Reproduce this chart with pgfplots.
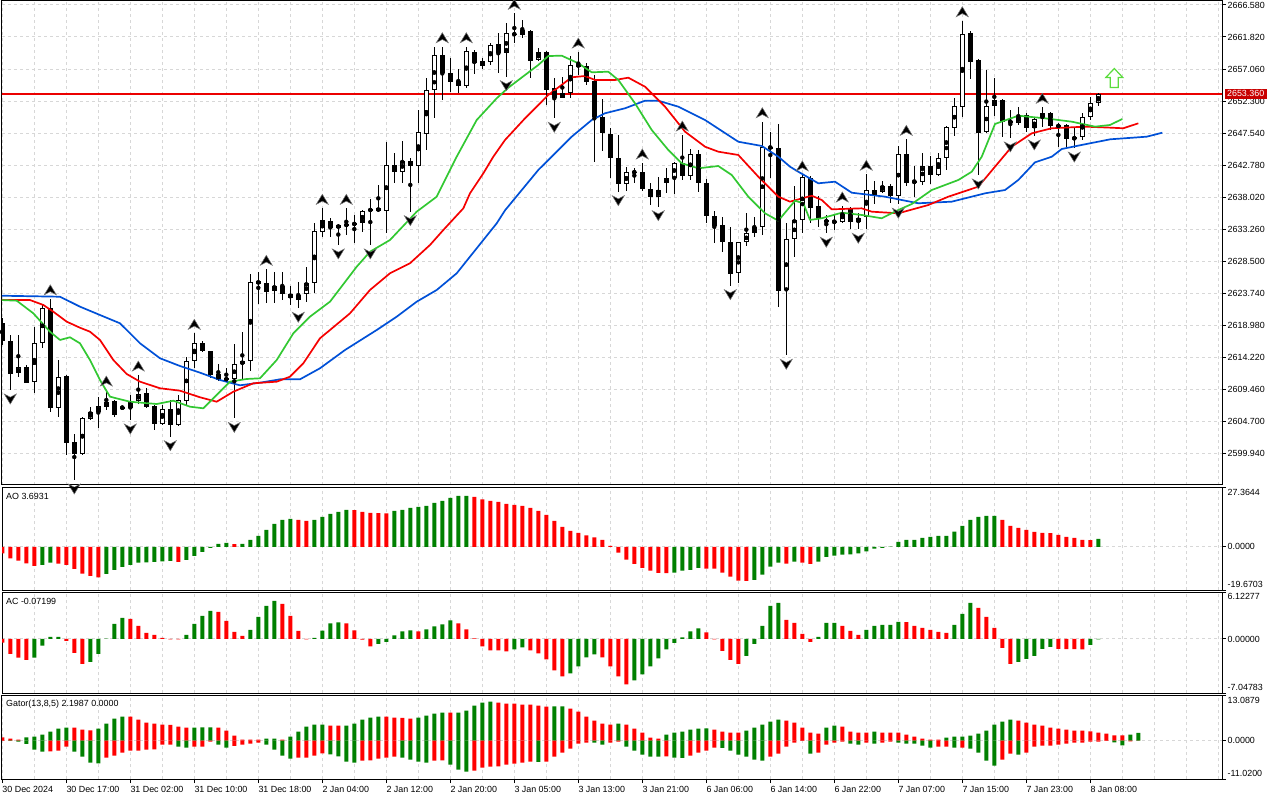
\documentclass[border=0pt]{standalone}
\usepackage{pgfplots}
\pgfplotsset{compat=1.18}
\usepackage{pgfplotstable}
\usepackage{fontspec}
\setmainfont{Liberation Sans}

\definecolor{aogreen}{RGB}{0,128,0}
\definecolor{aored}{RGB}{255,0,0}
\definecolor{jawblue}{RGB}{0,80,215}
\definecolor{teethred}{RGB}{245,0,0}
\definecolor{lipsgreen}{RGB}{50,200,50}
\definecolor{gridc}{RGB}{215,215,215}
\definecolor{pricered}{RGB}{235,0,0}
\definecolor{labelred}{RGB}{200,0,0}
\definecolor{siggreen}{RGB}{90,220,60}

\newcommand\lbl{\fontsize{8.9}{10}\selectfont}

\pgfplotsset{
  green bars/.style={ybar, bar width=4pt, bar shift=0pt, fill=aogreen, draw=none, restrict expr to domain={\thisrow{#1}}{0.5:1.5}},
  red bars/.style={ybar, bar width=4pt, bar shift=0pt, fill=aored, draw=none, restrict expr to domain={\thisrow{#1}}{-0.5:0.5}},
  pane/.style={
    scale only axis, width=1220pt,
    xmin=-0.0375, xmax=152.4625,
    axis line style={line width=1pt},
    every tick/.style={black, line width=1pt},
    tick align=outside, major tick length=4pt, minor tick length=0pt,
    ytick pos=right, yticklabel pos=right, xtick pos=left,
    grid style={gridc, line width=1pt, dash pattern=on 3pt off 3pt},
    ticklabel style={font=\lbl},
    yticklabel style={anchor=west, inner sep=0pt, xshift=1.5pt},
    xtick={0,4,...,152}, xticklabels={}, xmajorgrids,
    xtick style={draw=none},
  },
}

\pgfdeclareplotmark{fracup}{%
  \pgfpathmoveto{\pgfqpoint{0pt}{14pt}}%
  \pgfpathlineto{\pgfqpoint{6pt}{4pt}}%
  \pgfpathlineto{\pgfqpoint{0pt}{7.2pt}}%
  \pgfpathlineto{\pgfqpoint{-6pt}{4pt}}%
  \pgfpathclose\pgfusepathqfillstroke}
\pgfdeclareplotmark{fracdn}{%
  \pgfpathmoveto{\pgfqpoint{0pt}{-14pt}}%
  \pgfpathlineto{\pgfqpoint{6pt}{-4pt}}%
  \pgfpathlineto{\pgfqpoint{0pt}{-7.2pt}}%
  \pgfpathlineto{\pgfqpoint{-6pt}{-4pt}}%
  \pgfpathclose\pgfusepathqfillstroke}
\pgfdeclareplotmark{sigup}{%
  \pgfpathmoveto{\pgfqpoint{0pt}{9.5pt}}%
  \pgfpathlineto{\pgfqpoint{8.5pt}{0.5pt}}%
  \pgfpathlineto{\pgfqpoint{4pt}{0.5pt}}%
  \pgfpathlineto{\pgfqpoint{4pt}{-9.5pt}}%
  \pgfpathlineto{\pgfqpoint{-4pt}{-9.5pt}}%
  \pgfpathlineto{\pgfqpoint{-4pt}{0.5pt}}%
  \pgfpathlineto{\pgfqpoint{-8.5pt}{0.5pt}}%
  \pgfpathclose\pgfusepathqfillstroke}

\pgfplotstableread{
k o h l c
0 2619.26 2620.05 2616.03 2616.67
1 2616.63 2617.52 2609.34 2611.77
2 2611.83 2617.52 2611.23 2612.72
3 2612.72 2613.06 2610.34 2610.43
4 2610.49 2618.75 2608.85 2616.29
5 2616.29 2622.20 2615.54 2621.49
6 2621.49 2622.90 2606.12 2606.62
7 2606.62 2613.80 2605.37 2611.32
8 2611.42 2611.57 2599.68 2601.51
9 2601.57 2602.80 2595.96 2599.78
10 2599.78 2605.37 2599.68 2605.12
11 2605.12 2606.86 2604.88 2606.03
12 2606.03 2608.35 2603.65 2606.96
13 2606.86 2609.34 2606.37 2607.51
14 2607.71 2607.86 2605.37 2605.63
15 2606.71 2606.96 2606.52 2606.70
16 2606.62 2608.60 2604.88 2607.75
17 2607.75 2611.57 2607.26 2608.75
18 2608.85 2609.60 2606.62 2606.86
19 2606.96 2607.11 2603.40 2604.29
20 2604.29 2607.11 2604.14 2606.52
21 2606.47 2607.86 2602.40 2604.14
22 2604.14 2608.60 2603.99 2607.86
23 2607.75 2614.29 2607.11 2613.65
24 2613.65 2617.77 2612.57 2616.37
25 2616.37 2616.63 2615.04 2615.19
26 2615.14 2615.14 2611.08 2611.57
27 2611.68 2613.21 2610.73 2610.83
28 2611.08 2612.66 2610.58 2610.83
29 2610.98 2616.14 2605.12 2613.16
30 2613.16 2618.01 2610.98 2613.65
31 2613.70 2626.59 2612.17 2625.47
32 2625.55 2626.93 2622.13 2625.15
33 2625.20 2627.29 2622.32 2623.96
34 2624.06 2626.93 2622.32 2624.80
35 2624.80 2626.93 2622.72 2623.57
36 2623.61 2624.80 2621.98 2622.97
37 2622.72 2625.44 2621.49 2623.47
38 2623.57 2627.67 2622.47 2625.30
39 2625.30 2634.21 2623.72 2632.98
40 2632.79 2636.35 2632.13 2634.62
41 2634.51 2634.87 2632.13 2633.47
42 2633.47 2634.02 2630.90 2633.82
43 2633.97 2636.35 2632.38 2633.76
44 2634.12 2635.36 2631.15 2633.97
45 2634.12 2636.10 2632.87 2635.95
46 2635.91 2637.69 2630.90 2636.29
47 2636.35 2639.82 2635.85 2636.00
48 2636.00 2646.26 2632.64 2642.79
49 2642.79 2644.53 2640.16 2641.79
50 2641.79 2646.36 2640.16 2643.39
51 2643.39 2643.83 2635.85 2642.69
52 2642.69 2650.97 2640.16 2647.65
53 2647.35 2655.68 2645.02 2653.94
54 2653.94 2660.38 2649.82 2659.14
55 2659.14 2660.38 2652.45 2656.42
56 2656.42 2658.65 2653.69 2655.17
57 2655.28 2657.02 2653.54 2654.58
58 2654.58 2660.38 2654.19 2659.74
59 2659.55 2659.89 2656.32 2657.91
60 2657.51 2658.65 2657.02 2658.25
61 2658.15 2660.88 2657.66 2660.63
62 2660.73 2662.37 2656.42 2659.40
63 2659.40 2663.86 2655.92 2662.37
64 2662.22 2665.34 2660.97 2662.27
65 2662.12 2664.35 2661.63 2662.86
66 2662.71 2662.86 2655.68 2658.30
67 2658.40 2660.14 2658.25 2659.55
68 2659.55 2659.74 2651.71 2653.94
69 2654.19 2655.68 2649.73 2652.80
70 2652.80 2655.92 2652.71 2653.45
71 2653.45 2658.99 2652.80 2657.66
72 2657.66 2659.59 2656.17 2657.51
73 2657.51 2657.91 2654.68 2655.17
74 2655.28 2656.17 2643.28 2649.88
75 2649.88 2652.56 2644.92 2647.50
76 2647.40 2648.25 2640.81 2643.79
77 2643.79 2647.25 2638.82 2639.92
78 2639.92 2642.54 2638.97 2641.71
79 2641.71 2642.30 2640.16 2641.75
80 2641.71 2643.09 2638.97 2639.22
81 2639.22 2640.07 2636.84 2638.08
82 2637.99 2641.03 2636.59 2639.08
83 2640.16 2642.30 2638.67 2640.81
84 2640.81 2643.28 2638.48 2643.13
85 2643.13 2647.25 2640.56 2641.20
86 2641.20 2645.13 2640.56 2644.39
87 2644.39 2645.02 2638.82 2640.07
88 2640.07 2640.67 2634.21 2635.25
89 2635.25 2635.99 2631.24 2633.72
90 2633.86 2635.10 2629.90 2631.30
91 2631.30 2633.53 2624.85 2626.59
92 2626.78 2631.35 2625.30 2631.30
93 2631.30 2635.61 2630.75 2632.64
94 2632.64 2635.10 2632.04 2633.62
95 2633.62 2649.23 2632.38 2645.51
96 2645.51 2647.74 2640.81 2645.27
97 2645.36 2648.89 2621.73 2624.11
98 2624.21 2634.12 2614.50 2631.76
99 2631.76 2639.70 2629.16 2634.54
100 2634.54 2641.32 2632.65 2640.98
101 2640.83 2641.10 2634.21 2636.44
102 2636.70 2638.18 2633.61 2634.76
103 2634.61 2635.36 2632.64 2634.27
104 2634.47 2635.51 2633.13 2634.27
105 2634.36 2636.70 2634.21 2635.76
106 2636.25 2636.55 2633.23 2634.36
107 2634.36 2635.70 2633.23 2634.96
108 2635.10 2641.42 2633.23 2639.09
109 2639.09 2640.43 2636.96 2638.34
110 2638.85 2640.43 2638.60 2639.74
111 2639.74 2639.94 2637.11 2638.20
112 2638.20 2645.66 2636.96 2644.39
113 2644.39 2646.61 2639.74 2640.16
114 2640.41 2642.64 2638.08 2640.16
115 2640.31 2644.62 2639.82 2642.64
116 2642.64 2644.13 2639.97 2641.30
117 2641.30 2644.62 2641.20 2643.79
118 2643.79 2648.59 2642.05 2648.49
119 2648.25 2652.71 2647.10 2651.56
120 2651.46 2664.24 2649.88 2662.22
121 2662.37 2662.76 2655.58 2658.15
122 2658.40 2658.55 2641.30 2647.50
123 2647.65 2656.91 2647.55 2651.61
124 2651.61 2655.77 2650.08 2652.45
125 2652.45 2652.56 2647.00 2649.14
126 2649.33 2650.97 2646.81 2649.14
127 2649.08 2651.37 2648.74 2649.97
128 2650.22 2650.52 2647.70 2648.34
129 2648.25 2649.97 2647.10 2649.58
130 2649.73 2651.37 2648.49 2650.48
131 2650.48 2650.71 2647.99 2648.59
132 2648.74 2649.04 2645.51 2648.44
133 2648.74 2648.89 2645.51 2646.61
134 2646.61 2648.25 2645.30 2646.91
135 2646.91 2650.57 2646.51 2649.88
136 2649.88 2652.86 2649.49 2652.05
137 2652.05 2653.54 2651.56 2653.36
}\ohlc

\pgfplotstableread{
k p
-0.3 2623.36
7.21 2623.21
9.71 2621.73
12.21 2620.49
14.71 2619.26
17.21 2616.29
19.71 2614.06
22.21 2612.91
24.71 2611.92
27.21 2610.83
29.71 2610.04
32.21 2610.43
34.71 2610.93
37.21 2610.93
39.71 2612.57
42.84 2615.29
46.8 2618.26
49.3 2620.24
51.8 2622.47
54.3 2624.21
56.8 2626.69
58.46 2629.16
60.13 2631.64
61.8 2634.12
62.84 2636.05
67.0 2642.05
71.18 2647.00
73.68 2649.48
75.34 2650.48
77.84 2651.22
80.34 2652.35
82.0 2652.35
84.5 2651.46
87.84 2649.48
92.0 2646.25
94.93 2645.62
97.0 2644.03
98.46 2642.54
99.5 2641.79
102.0 2640.07
104.09 2640.31
106.18 2638.67
110.34 2638.08
114.5 2637.10
118.68 2637.34
122.84 2638.58
125.34 2639.07
127.0 2640.56
129.09 2643.19
131.18 2644.02
132.43 2645.17
135.34 2645.87
138.5 2646.61
143.05 2647.00
145.0 2647.59
}\jaw

\pgfplotstableread{
k p
-0.3 2622.72
3.46 2622.72
5.13 2621.98
6.38 2620.98
8.05 2619.50
9.71 2618.60
10.96 2618.01
12.21 2616.78
13.88 2613.80
15.55 2611.72
17.21 2610.58
19.71 2609.60
22.21 2609.24
24.71 2608.26
26.8 2607.60
28.88 2609.09
31.38 2610.34
34.3 2610.58
35.96 2611.32
37.63 2613.31
39.71 2617.03
40.96 2618.26
43.46 2620.74
45.96 2624.21
48.46 2626.69
50.96 2628.18
53.46 2630.90
55.13 2633.13
57.63 2636.35
58.46 2638.58
60.13 2641.56
61.38 2644.03
62.84 2646.51
65.34 2649.73
68.25 2653.20
71.18 2655.83
72.84 2656.02
74.09 2655.43
76.59 2655.43
78.25 2655.77
80.34 2654.43
82.84 2651.46
85.34 2647.74
87.84 2645.51
89.5 2644.77
92.0 2644.28
94.5 2641.05
97.0 2638.08
98.46 2637.34
101.18 2638.23
102.43 2637.59
103.68 2636.20
107.43 2636.35
108.68 2635.85
112.0 2635.61
115.75 2636.84
118.25 2638.08
122.0 2639.57
124.09 2642.54
126.18 2645.51
128.68 2647.50
131.18 2648.25
135.34 2648.49
138.5 2648.34
140.13 2648.25
142.0 2648.99
}\teeth

\pgfplotstableread{
k p
-0.3 2622.72
1.8 2622.62
3.88 2620.74
5.96 2618.01
7.21 2616.78
8.46 2617.18
9.71 2616.28
10.96 2613.80
12.21 2610.83
13.46 2608.35
15.96 2607.60
19.3 2607.26
21.38 2607.75
23.46 2606.86
25.13 2606.62
26.8 2608.60
28.46 2610.58
30.55 2610.98
32.21 2611.08
34.3 2613.80
36.38 2617.77
38.46 2620.24
40.96 2622.47
44.3 2627.67
45.96 2629.90
48.46 2631.64
51.8 2635.85
54.3 2638.08
56.8 2644.03
59.3 2649.48
61.8 2652.71
63.21 2654.24
65.34 2656.17
67.0 2657.66
68.25 2658.99
69.93 2659.04
72.0 2657.91
73.68 2656.57
75.75 2656.66
77.0 2655.43
79.09 2651.96
81.18 2647.99
83.25 2645.02
84.93 2643.04
87.0 2642.30
89.5 2642.64
91.18 2641.30
93.25 2638.08
95.34 2635.61
97.0 2634.51
98.46 2636.59
99.09 2637.48
100.13 2637.10
100.96 2634.62
102.43 2634.87
104.93 2635.70
107.43 2635.36
109.93 2634.87
112.0 2636.10
113.68 2636.99
116.18 2639.07
119.5 2640.56
121.18 2641.79
122.43 2644.03
124.09 2648.89
127.0 2650.12
130.34 2649.73
133.68 2649.23
136.59 2648.49
138.46 2648.74
140.0 2649.63
}\lips

\pgfplotstableread{
k p
6 2622.90
13 2609.34
17 2611.57
24 2617.77
33 2627.29
40 2636.35
43 2636.35
55 2660.38
58 2660.38
64 2665.34
72 2659.59
80 2643.09
85 2647.25
95 2649.23
100 2641.32
105 2636.70
108 2641.42
113 2646.61
120 2664.24
130 2651.37
}\fup

\pgfplotstableread{
k p
1 2609.34
9 2595.96
16 2604.88
21 2602.40
29 2605.12
37 2621.49
42 2630.90
46 2630.90
51 2635.85
63 2655.92
69 2649.73
77 2638.82
82 2636.59
91 2624.85
98 2614.50
103 2632.64
107 2633.23
112 2636.96
122 2641.30
126 2646.81
129 2647.10
134 2645.30
}\fdn

% current bid price
\pgfplotstableread{
k p
-1 2653.36
154 2653.36
}\bid

% c = 1 : green bar, c = 0 : red bar
\pgfplotstableread{
k v c
0 -2.89 0
1 -5.17 0
2 -6.24 0
3 -7.46 0
4 -8.68 0
5 -8.22 1
6 -7.15 1
7 -7.61 0
8 -8.22 0
9 -10.05 0
10 -12.18 0
11 -13.24 0
12 -13.85 0
13 -12.33 1
14 -10.50 1
15 -9.13 1
16 -8.22 1
17 -7.15 1
18 -7.00 1
19 -6.85 1
20 -6.54 1
21 -6.39 1
22 -6.85 0
23 -5.94 1
24 -4.11 1
25 -2.28 1
26 -0.46 1
27 1.37 1
28 1.83 1
29 1.30 0
30 1.45 1
31 3.20 1
32 5.02 1
33 7.76 1
34 10.50 1
35 12.33 1
36 12.78 1
37 12.33 0
38 11.87 0
39 12.33 1
40 13.70 1
41 15.07 1
42 15.98 1
43 16.89 1
44 16.80 0
45 15.98 0
46 15.52 0
47 15.45 0
48 15.35 0
49 16.44 1
50 16.89 1
51 17.81 1
52 18.26 1
53 18.72 1
54 20.09 1
55 21.00 1
56 22.37 1
57 23.29 1
58 23.35 1
59 22.83 0
60 21.76 0
61 21.00 0
62 20.55 0
63 19.63 0
64 19.18 0
65 18.72 0
66 17.81 0
67 16.44 0
68 14.61 0
69 11.87 0
70 9.13 0
71 7.31 0
72 6.39 0
73 5.33 0
74 4.41 0
75 3.20 0
76 0.46 0
77 -2.59 0
78 -5.78 0
79 -7.76 0
80 -9.59 0
81 -10.81 0
82 -11.87 0
83 -11.95 0
84 -11.72 1
85 -10.81 1
86 -10.50 1
87 -9.59 1
88 -9.89 0
89 -9.95 0
90 -11.72 0
91 -13.55 0
92 -15.37 0
93 -15.45 0
94 -15.07 1
95 -12.63 1
96 -8.98 1
97 -7.15 1
98 -7.61 0
99 -6.70 1
100 -7.15 0
101 -7.76 0
102 -6.70 1
103 -4.57 1
104 -3.96 1
105 -3.50 1
106 -3.45 1
107 -2.89 1
108 -1.98 1
109 -0.76 1
110 -0.46 1
111 0.15 1
112 2.28 1
113 3.20 1
114 3.25 1
115 4.11 1
116 4.57 1
117 5.02 1
118 5.08 1
119 7.00 1
120 9.59 1
121 12.33 1
122 13.70 1
123 14.15 1
124 14.20 1
125 12.33 0
126 9.59 0
127 8.68 0
128 7.76 0
129 6.85 0
130 6.39 0
131 6.35 0
132 5.48 0
133 4.57 0
134 4.11 0
135 3.20 0
136 3.15 0
137 3.69 1
}\aotab

\pgfplotstableread{
k v c
0 -0.48 0
1 -1.96 0
2 -2.43 0
3 -2.74 0
4 -2.43 1
5 -0.87 1
6 0.26 1
7 0.28 1
8 -0.26 0
9 -1.83 0
10 -3.26 0
11 -3.00 1
12 -1.96 1
13 0.04 1
14 1.96 1
15 2.74 1
16 2.61 0
17 1.70 0
18 0.78 0
19 0.52 0
20 0.13 0
21 -0.04 0
22 -0.07 0
23 0.52 1
24 1.96 1
25 3.00 1
26 3.65 1
27 3.52 0
28 2.35 0
29 0.91 0
30 0.39 0
31 1.17 1
32 2.87 1
33 4.30 1
34 4.96 1
35 4.56 0
36 3.00 0
37 1.04 0
38 -0.04 0
39 0.13 1
40 1.09 1
41 2.04 1
42 2.17 1
43 2.04 0
44 1.13 0
45 -0.09 0
46 -0.96 0
47 -0.65 1
48 -0.39 1
49 0.48 1
50 1.00 1
51 1.13 1
52 1.00 0
53 1.26 1
54 1.65 1
55 1.91 1
56 2.43 1
57 2.04 0
58 1.26 0
59 0.09 0
60 -0.96 0
61 -1.48 0
62 -1.50 0
63 -1.61 0
64 -1.35 1
65 -1.09 1
66 -1.48 0
67 -1.87 0
68 -2.65 0
69 -4.09 0
70 -4.87 0
71 -4.48 1
72 -3.56 1
73 -2.39 1
74 -2.00 1
75 -2.39 0
76 -3.56 0
77 -4.87 0
78 -5.91 0
79 -5.39 1
80 -4.61 1
81 -3.56 1
82 -2.52 1
83 -1.35 1
84 -0.52 1
85 0.22 1
86 1.00 1
87 1.39 1
88 0.87 0
89 -0.04 0
90 -1.56 0
91 -2.74 0
92 -3.26 0
93 -2.22 1
94 -0.65 1
95 1.70 1
96 4.30 1
97 4.69 1
98 2.48 0
99 2.09 0
100 0.65 0
101 -0.39 0
102 0.26 1
103 2.09 1
104 2.11 1
105 1.70 0
106 1.04 0
107 0.52 0
108 1.17 1
109 1.70 1
110 1.83 1
111 1.85 1
112 2.22 1
113 2.20 0
114 1.70 0
115 1.43 0
116 1.17 0
117 0.91 0
118 0.78 0
119 1.83 1
120 3.26 1
121 4.69 1
122 4.04 0
123 2.87 0
124 1.43 0
125 -1.17 0
126 -3.26 0
127 -3.00 1
128 -2.61 1
129 -2.22 1
130 -1.30 1
131 -1.04 1
132 -1.30 0
133 -1.32 0
134 -1.34 0
135 -1.36 0
136 -0.78 1
137 -0.07 1
}\actab

\pgfplotstableread{
k up uc lo lc
0 0.96 0 -0.05 0
1 0.57 0 -0.10 1
2 0.29 0 -0.29 1
3 0.96 1 -0.96 1
4 1.15 1 -2.58 1
5 1.72 1 -3.16 1
6 2.58 1 -3.10 0
7 3.45 1 -2.87 0
8 3.73 1 -1.72 0
9 3.70 0 -3.16 1
10 3.16 0 -4.59 1
11 2.97 0 -6.32 1
12 3.45 1 -6.51 1
13 4.88 1 -4.88 0
14 6.32 1 -4.31 0
15 6.89 1 -3.45 0
16 6.85 0 -2.87 0
17 6.03 0 -2.85 0
18 5.17 0 -2.58 0
19 4.88 0 -2.55 0
20 4.59 0 -1.15 0
21 4.55 0 -1.12 0
22 4.02 0 -1.72 1
23 3.73 0 -2.01 1
24 3.76 1 -1.72 0
25 3.78 1 -1.70 0
26 3.80 1 -0.29 0
27 3.75 0 -1.15 1
28 2.87 0 -2.01 1
29 1.44 0 -1.53 0
30 0.29 0 -1.15 0
31 0.27 0 -0.86 0
32 0.25 0 -0.57 0
33 0.57 1 -1.15 1
34 0.60 1 -2.58 1
35 0.29 0 -4.31 1
36 1.15 1 -5.17 1
37 2.58 1 -4.88 0
38 4.02 1 -4.85 0
39 4.59 1 -4.31 0
40 4.62 1 -3.64 0
41 4.31 0 -3.92 1
42 4.28 0 -4.50 1
43 4.33 1 -6.03 1
44 4.88 1 -6.32 1
45 6.03 1 -5.74 0
46 6.60 1 -5.70 0
47 6.89 1 -5.17 0
48 6.85 0 -4.88 0
49 6.60 0 -4.59 0
50 6.55 0 -4.88 1
51 6.32 0 -5.45 1
52 6.60 1 -6.03 1
53 7.18 1 -6.32 1
54 7.75 1 -5.74 0
55 8.04 1 -5.70 0
56 8.00 0 -6.89 1
57 8.05 1 -8.33 1
58 8.61 1 -8.90 1
59 10.05 1 -8.61 0
60 10.91 1 -7.75 0
61 11.20 1 -7.46 0
62 10.91 0 -7.42 0
63 10.62 0 -6.89 0
64 10.58 0 -6.60 0
65 10.34 0 -6.32 0
66 10.30 0 -6.03 0
67 10.05 0 -6.08 1
68 9.76 0 -6.03 0
69 9.80 1 -4.59 0
70 9.84 1 -3.45 0
71 9.19 0 -2.30 0
72 8.33 0 -0.86 0
73 6.89 0 -0.57 0
74 5.74 0 -0.60 1
75 4.88 0 -1.15 1
76 4.59 0 -0.57 0
77 4.88 1 -0.29 0
78 4.59 0 -1.72 1
79 3.45 0 -2.87 1
80 2.30 0 -4.02 1
81 0.86 0 -4.59 1
82 0.57 0 -4.62 1
83 1.72 1 -4.55 0
84 2.30 1 -4.88 1
85 2.58 1 -4.92 1
86 3.16 1 -4.31 0
87 3.45 1 -3.45 0
88 3.48 1 -2.87 0
89 3.16 0 -2.01 0
90 2.58 0 -2.05 1
91 2.30 0 -2.87 1
92 2.28 0 -4.02 1
93 2.87 1 -4.59 1
94 3.73 1 -5.45 1
95 4.59 1 -5.74 1
96 5.45 1 -4.59 0
97 6.03 1 -3.73 0
98 5.74 0 -1.72 0
99 5.17 0 -0.57 0
100 3.73 0 -0.05 0
101 2.30 0 -3.73 1
102 2.01 0 -3.45 0
103 3.73 1 -1.15 0
104 4.31 1 -0.57 0
105 4.02 0 -0.29 0
106 2.58 0 -0.86 1
107 2.30 0 -1.15 1
108 2.28 0 -0.57 0
109 2.58 1 -0.86 1
110 2.30 0 -0.57 0
111 2.28 0 -0.29 0
112 2.26 0 -0.57 1
113 1.72 0 -0.86 1
114 1.15 0 -0.88 1
115 0.57 0 -1.44 1
116 0.29 0 -2.01 1
117 0.27 0 -1.72 0
118 0.86 1 -1.70 0
119 1.15 1 -2.01 1
120 1.17 1 -1.98 0
121 1.44 1 -2.30 1
122 2.01 1 -3.45 1
123 2.87 1 -5.74 1
124 4.59 1 -7.18 1
125 5.45 1 -5.45 0
126 6.03 1 -3.73 0
127 5.74 0 -4.02 1
128 5.17 0 -3.45 0
129 4.59 0 -1.72 0
130 4.31 0 -1.44 0
131 3.73 0 -1.42 0
132 3.45 0 -1.15 0
133 3.16 0 -0.86 0
134 2.87 0 -0.57 0
135 2.85 0 -0.55 0
136 2.68 0 -0.29 0
137 2.30 0 -0.27 0
138 2.01 0 -0.10 0
139 1.53 0 -0.48 1
140 1.50 0 -1.34 1
141 1.72 1 -0.20 0
142 2.20 1 0 0
}\gatortab

\begin{document}
\begin{tikzpicture}
\path[use as bounding box] (0pt,0pt) rectangle (1280pt,-800pt);

% ---------------- main price pane ----------------
\begin{axis}[pane, name=main, at={(2pt,-1pt)}, anchor=north west, height=484pt,
  ymin=2595.22, ymax=2667.17,
  ytick={2599.94,2604.70,2609.46,2614.22,2618.98,2623.74,2628.50,2633.26,2638.02,2642.78,2647.54,2652.30,2657.06,2661.82,2666.58},
  yticklabels={2599.940,2604.700,2609.460,2614.220,2618.980,2623.740,2628.500,2633.260,2638.020,2642.780,2647.540,2652.300,2657.060,2661.820,2666.580},
  ymajorgrids,
]
% current price line
\addplot[draw=pricered, line width=1.3pt, solid, mark=none] table[x=k,y=p] {\bid};
% wicks
\addplot[only marks, mark=none, error bars/.cd, y dir=both, y explicit, error mark=none,
  error bar style={black, line width=1pt}]
  table[x=k, y expr={(\thisrow{h}+\thisrow{l})/2}, y error expr={(\thisrow{h}-\thisrow{l})/2}] {\ohlc};
% bodies
\addplot[only marks, mark=none, error bars/.cd, y dir=both, y explicit, error mark=none,
  error bar style={black, line width=5pt}]
  table[x=k, y expr={(\thisrow{o}+\thisrow{c})/2}, y error expr={max(abs(\thisrow{c}-\thisrow{o})/2,0.075)}] {\ohlc};
\addplot[only marks, mark=none, error bars/.cd, y dir=both, y explicit, error mark=none,
  error bar style={white, line width=3pt}]
  table[x=k, y expr={(\thisrow{o}+\thisrow{c})/2}, y error expr={max((\thisrow{c}-\thisrow{o})/2-0.1487,0)}] {\ohlc};
% alligator
\addplot[jawblue, line width=1.7pt, line join=round] table[x=k,y=p] {\jaw};
\addplot[teethred, line width=1.7pt, line join=round] table[x=k,y=p] {\teeth};
\addplot[lipsgreen, line width=1.7pt, line join=round] table[x=k,y=p] {\lips};
% fractals
\addplot[only marks, mark=fracup, mark options={fill=black, draw=black!55, line width=0.5pt}] table[x=k,y=p] {\fup};
\addplot[only marks, mark=fracdn, mark options={fill=black, draw=black!55, line width=0.5pt}] table[x=k,y=p] {\fdn};
% signal arrow
\addplot[only marks, mark=sigup, mark options={fill=white, draw=siggreen, line width=1.2pt}] coordinates {(139,2655.72)};
\coordinate (pricepos) at (axis cs:152.4625,2653.36);
\end{axis}
% current price label
\node[fill=labelred, text=white, font=\lbl, anchor=west, inner xsep=2.6pt, inner ysep=2pt, xshift=2.3pt] at (pricepos) {2653.360};

% ---------------- AO pane ----------------
\begin{axis}[pane, at={(2pt,-487pt)}, anchor=north west, height=103pt,
  ymin=-19.6703, ymax=27.3644,
  ytick={0}, yticklabels={0.0000}, ymajorgrids,
  extra y ticks={-19.6703,27.3644},
  extra y tick labels={{\raisebox{5.7pt}[\height][\depth]{-19.6703}},{\raisebox{-5.7pt}[\height][\depth]{27.3644}}},
  extra y tick style={grid=none},
]
\addplot[green bars=c] table[x=k,y=v] {\aotab};
\addplot[red bars=c] table[x=k,y=v] {\aotab};
\node[anchor=west, font=\lbl, inner sep=0pt, xshift=4pt, yshift=-9.7pt] at (rel axis cs:0,1) {AO 3.6931};
\end{axis}

% ---------------- AC pane ----------------
\begin{axis}[pane, at={(2pt,-592pt)}, anchor=north west, height=101pt,
  ymin=-7.04783, ymax=6.12277,
  ytick={0}, yticklabels={0.00000}, ymajorgrids,
  extra y ticks={-7.04783,6.12277},
  extra y tick labels={{\raisebox{5.3pt}[\height][\depth]{-7.04783}},{\raisebox{-4.7pt}[\height][\depth]{6.12277}}},
  extra y tick style={grid=none},
]
\addplot[green bars=c] table[x=k,y=v] {\actab};
\addplot[red bars=c] table[x=k,y=v] {\actab};
\node[anchor=west, font=\lbl, inner sep=0pt, xshift=4pt, yshift=-9.7pt] at (rel axis cs:0,1) {AC -0.07199};
\end{axis}

% ---------------- Gator pane ----------------
\begin{axis}[pane, at={(2pt,-695pt)}, anchor=north west, height=84pt,
  ymin=-11.02, ymax=13.0879,
  ytick={0}, yticklabels={0.0000}, ymajorgrids,
  extra y ticks={-11.02,13.0879},
  extra y tick labels={{\raisebox{5.7pt}[\height][\depth]{-11.0200}},{\raisebox{-5pt}[\height][\depth]{13.0879}}},
  extra y tick style={grid=none},
  xtick={0,8,...,136},
  minor xtick={4,12,...,132,140,144,148,152},
  xminorgrids,
  xtick style={draw=black},
  xticklabels={{30 Dec 2024},{30 Dec 17:00},{31 Dec 02:00},{31 Dec 10:00},{31 Dec 18:00},{2 Jan 04:00},{2 Jan 12:00},{2 Jan 20:00},{3 Jan 05:00},{3 Jan 13:00},{3 Jan 21:00},{6 Jan 06:00},{6 Jan 14:00},{6 Jan 22:00},{7 Jan 07:00},{7 Jan 15:00},{7 Jan 23:00},{8 Jan 08:00}},
  xticklabel style={anchor=north west, inner xsep=0pt, inner ysep=1pt, yshift=-2.5pt},
]
\addplot[green bars=uc] table[x=k,y=up] {\gatortab};
\addplot[red bars=uc] table[x=k,y=up] {\gatortab};
\addplot[green bars=lc] table[x=k,y=lo] {\gatortab};
\addplot[red bars=lc] table[x=k,y=lo] {\gatortab};
\node[anchor=west, font=\lbl, inner sep=0pt, xshift=4pt, yshift=-9.3pt] at (rel axis cs:0,1) {Gator(13,8,5) 2.1987 0.0000};
\end{axis}
\end{tikzpicture}
\end{document}
